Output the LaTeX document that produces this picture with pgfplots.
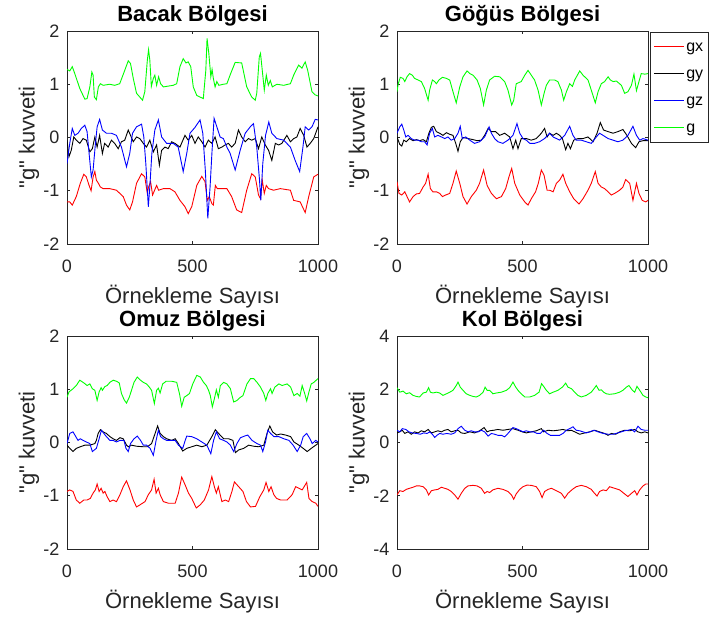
\documentclass[border=0pt]{standalone}
\usepackage{fontspec}
\setmainfont{Liberation Sans}
\usepackage{pgfplots}
\pgfplotsset{compat=1.18}
\definecolor{mgreen}{rgb}{0,1,0}
\definecolor{axgray}{rgb}{0.15,0.15,0.15}
\pgfplotsset{
  panel/.style={
    scale only axis, width=251pt, height=213pt,
    xmin=0, xmax=1000, ymin=-2, ymax=2,
    xtick={0,500,1000}, ytick={-2,-1,0,1,2},
    axis line style={axgray, line width=0.6pt},
    tick style={axgray, line width=0.6pt},
    major tick length=3pt,
    tick label style={font=\fontsize{18}{18}\selectfont, text=axgray},
    /pgf/number format/assume math mode=true,
    /pgf/number format/set thousands separator={},
    xticklabel style={yshift=-12pt},
    yticklabel style={xshift=-4pt},
    xlabel={Örnekleme Sayısı},
    ylabel={\textquotedbl g\textquotedbl{} kuvveti},
    every axis label/.append style={font=\fontsize{22}{22}\selectfont, text=axgray},
    every axis x label/.style={at={(axis description cs:0.5,0)}, anchor=center, yshift=-53pt},
    every axis y label/.style={at={(axis description cs:0,0.5)}, xshift=-38pt, anchor=center, rotate=90},
    every axis title/.style={font=\bfseries\fontsize{22}{22}\selectfont, at={(axis description cs:0.5,1)}, anchor=center, yshift=15pt},
    cycle list={{red},{black},{blue},{mgreen}},
    no markers,
    every axis plot/.append style={line width=0.9pt},
  }
}
\begin{document}
\begin{tikzpicture}
\path[use as bounding box] (0,0) rectangle (715pt,623pt);
% ---------------- Bacak
\begin{axis}[panel, at={(67pt,379pt)}, anchor=south west, title={Bacak Bölgesi}]
\addplot coordinates {(0,-1.21)(11,-1.21)(21,-1.27)(37,-1.11)(53,-0.86)(67,-0.69)(77,-0.74)(88,-0.90)(96,-1.00)(104,-0.74)(111,-0.64)(117,-0.80)(125,-0.86)(133,-0.93)(144,-0.96)(170,-0.96)(197,-0.99)(224,-1.11)(237,-1.27)(250,-1.36)(261,-1.21)(277,-0.86)(297,-0.68)(310,-0.74)(320,-1.05)(325,-0.93)(333,-0.83)(341,-1.08)(349,-0.99)(357,-0.90)(365,-0.99)(384,-0.96)(410,-0.96)(430,-1.02)(450,-1.18)(470,-1.30)(483,-1.43)(497,-1.30)(517,-0.90)(537,-0.73)(550,-0.83)(559,-1.18)(567,-1.11)(577,-1.24)(583,-1.27)(591,-0.90)(599,-0.96)(610,-0.96)(637,-0.96)(656,-1.11)(676,-1.36)(696,-1.41)(716,-0.99)(736,-0.68)(750,-0.74)(763,-1.08)(771,-1.15)(778,-0.80)(786,-1.05)(794,-0.90)(803,-0.96)(823,-0.99)(850,-0.96)(890,-0.99)(903,-1.18)(929,-1.21)(949,-1.41)(963,-1.11)(983,-0.74)(1000,-0.69)};
\addplot coordinates {(0,-0.05)(8,-0.36)(17,-0.24)(27,0.01)(37,-0.05)(51,-0.11)(64,-0.02)(77,-0.05)(91,-0.27)(101,-0.21)(111,0.01)(120,-0.18)(130,0.04)(141,-0.30)(150,-0.11)(164,-0.18)(177,-0.05)(190,-0.11)(204,-0.21)(217,-0.08)(230,-0.05)(244,0.14)(253,0.04)(264,-0.08)(277,0.01)(290,-0.02)(304,-0.11)(317,-0.18)(330,-0.05)(344,-0.27)(357,-0.14)(368,-0.52)(377,-0.24)(390,-0.18)(403,-0.21)(417,-0.08)(430,-0.11)(450,-0.18)(470,0.04)(483,-0.05)(497,0.04)(510,-0.11)(523,0.01)(537,-0.08)(550,-0.18)(563,-0.05)(577,-0.11)(590,0.01)(603,-0.21)(617,-0.18)(630,-0.14)(643,-0.11)(656,-0.18)(670,-0.11)(683,0.14)(696,0.01)(710,-0.08)(723,-0.02)(736,-0.05)(750,-0.02)(763,-0.21)(776,0.01)(790,-0.14)(803,-0.24)(816,-0.43)(830,-0.11)(843,-0.14)(856,-0.11)(876,0.04)(890,-0.08)(903,-0.02)(916,0.01)(929,0.17)(943,0.04)(956,-0.18)(969,-0.11)(983,-0.02)(1000,0.20)};
\addplot coordinates {(0,-0.49)(11,-0.11)(21,0.17)(31,0.04)(44,0.08)(57,0.17)(71,0.23)(80,0.11)(88,-0.30)(97,-0.74)(104,-0.61)(112,-0.18)(120,0.20)(130,0.34)(141,0.14)(157,0.08)(177,0.08)(197,0.04)(217,-0.18)(237,-0.55)(250,-0.30)(261,0.08)(277,0.20)(297,0.25)(306,0.01)(314,-0.49)(324,-1.30)(330,-0.93)(338,-0.30)(350,0.14)(364,0.33)(377,0.01)(397,-0.11)(423,-0.11)(443,-0.18)(463,-0.64)(477,-0.30)(490,0.08)(510,0.19)(530,0.33)(541,0.08)(551,-0.61)(561,-1.52)(570,-0.93)(578,-0.24)(586,0.36)(597,0.20)(610,0.01)(623,-0.02)(637,-0.18)(650,-0.30)(670,-0.61)(690,-0.24)(710,0.08)(730,0.20)(743,0.26)(756,-0.18)(767,-0.80)(772,-1.18)(780,-0.49)(791,0.04)(804,0.29)(816,0.08)(836,-0.02)(863,-0.05)(890,-0.18)(909,-0.43)(927,-0.64)(940,-0.18)(949,0.20)(963,0.14)(976,0.20)(989,0.34)(1000,0.33)};
\addplot coordinates {(0,1.28)(11,1.25)(21,1.33)(31,1.20)(51,0.92)(71,0.72)(80,0.73)(91,0.95)(99,1.23)(104,1.17)(109,0.76)(117,0.71)(125,0.95)(133,1.01)(144,0.98)(170,1.00)(190,0.98)(210,1.01)(230,1.26)(244,1.44)(253,1.39)(264,1.11)(277,0.83)(301,0.70)(310,0.86)(320,1.45)(325,1.65)(330,1.45)(336,0.96)(344,1.11)(350,1.17)(357,0.98)(365,1.14)(373,1.01)(384,0.95)(423,0.98)(437,1.01)(450,1.33)(463,1.48)(474,1.40)(483,1.42)(493,1.33)(503,0.95)(517,0.79)(543,0.73)(553,1.26)(558,1.86)(565,1.58)(573,1.14)(578,1.28)(583,1.11)(590,0.95)(597,1.05)(605,0.98)(623,1.00)(637,1.01)(652,1.20)(670,1.41)(696,1.40)(716,0.95)(736,0.76)(750,0.70)(756,0.83)(766,1.51)(771,1.58)(778,1.26)(786,0.89)(794,1.17)(802,0.98)(810,1.07)(818,0.95)(836,1.00)(863,0.98)(890,1.01)(903,1.17)(923,1.36)(936,1.30)(949,1.42)(959,1.26)(976,0.86)(989,0.80)(1000,0.78)};
\end{axis}
% ---------------- Gogus
\begin{axis}[panel, at={(397pt,379pt)}, anchor=south west, title={Göğüs Bölgesi},
  legend style={at={(axis description cs:1.008,0.995)}, anchor=north west, draw=axgray, line width=0.6pt,
    font=\fontsize{16}{16}\selectfont, row sep=9pt, inner xsep=3pt, inner ysep=5.5pt,
    nodes={text height=12pt, text depth=2pt, inner sep=2pt}},
  legend cell align=left,
  legend image code/.code={\draw[#1, line width=1pt] (0pt,0pt) -- (30pt,0pt);}]
\addplot coordinates {(0,-0.83)(8,-1.05)(19,-1.08)(31,-1.02)(40,-1.11)(50,-1.21)(64,-1.11)(77,-1.06)(90,-1.05)(104,-0.93)(114,-0.86)(124,-0.69)(133,-0.96)(143,-1.02)(157,-1.02)(170,-1.05)(181,-1.11)(194,-1.08)(210,-1.05)(223,-0.86)(236,-0.63)(250,-0.86)(263,-1.11)(279,-1.25)(296,-1.11)(316,-0.99)(329,-0.86)(345,-0.61)(359,-0.90)(376,-1.05)(396,-1.15)(416,-1.11)(433,-0.96)(446,-0.74)(457,-0.58)(469,-0.86)(489,-1.08)(509,-1.21)(522,-1.27)(535,-1.15)(552,-1.02)(563,-0.86)(575,-0.61)(586,-0.71)(598,-0.99)(608,-0.99)(622,-1.02)(635,-0.86)(648,-0.80)(661,-0.69)(672,-0.86)(688,-1.02)(704,-1.15)(725,-1.25)(741,-1.15)(761,-0.99)(774,-0.86)(790,-0.64)(801,-0.86)(814,-0.93)(827,-0.96)(841,-1.02)(854,-1.08)(867,-1.05)(887,-0.99)(900,-0.93)(911,-0.79)(927,-0.86)(940,-1.18)(954,-0.86)(964,-1.05)(977,-1.18)(991,-1.21)(1000,-1.18)};
\addplot coordinates {(0,0.01)(11,-0.13)(19,-0.16)(27,-0.05)(37,-0.08)(50,-0.02)(64,-0.06)(77,-0.04)(90,-0.06)(104,-0.04)(117,-0.08)(127,0.08)(137,0.19)(146,0.21)(157,0.11)(170,0.08)(183,0.04)(197,0.09)(210,0.06)(223,0.04)(234,-0.11)(243,-0.26)(252,-0.08)(263,0.00)(283,-0.02)(303,-0.04)(319,-0.06)(336,-0.05)(349,0.04)(363,0.17)(376,0.11)(393,0.11)(409,0.04)(429,0.08)(449,0.01)(462,-0.21)(473,-0.05)(482,-0.21)(495,-0.02)(515,-0.02)(535,-0.05)(555,-0.02)(575,0.08)(588,0.17)(598,0.01)(608,0.08)(622,0.04)(635,0.08)(648,0.04)(659,-0.02)(672,-0.23)(681,-0.11)(691,-0.21)(704,-0.05)(721,-0.02)(741,-0.02)(761,0.01)(781,-0.08)(797,0.08)(810,0.28)(823,0.14)(841,0.11)(861,0.08)(880,0.11)(900,0.15)(916,0.04)(934,-0.11)(951,-0.19)(964,-0.08)(980,-0.06)(1000,-0.06)};
\addplot coordinates {(0,0.08)(11,0.20)(19,0.25)(27,0.14)(35,0.01)(44,0.04)(57,-0.02)(70,-0.05)(84,-0.05)(97,-0.08)(110,-0.08)(120,-0.14)(130,0.08)(141,0.17)(150,0.01)(163,0.04)(177,0.01)(190,-0.02)(203,0.01)(216,-0.05)(230,-0.02)(243,0.08)(252,0.21)(260,-0.02)(274,0.01)(290,-0.05)(309,-0.11)(329,-0.08)(349,0.01)(367,0.20)(376,0.08)(389,-0.02)(402,-0.08)(422,-0.11)(442,-0.05)(462,0.04)(478,0.26)(489,0.08)(502,-0.02)(515,-0.05)(529,-0.11)(548,-0.11)(568,-0.08)(588,-0.02)(608,0.08)(622,0.01)(635,-0.02)(648,-0.05)(668,0.04)(688,0.21)(701,0.04)(714,-0.05)(734,-0.05)(754,-0.08)(774,-0.11)(794,0.01)(807,0.08)(821,0.04)(841,-0.02)(861,-0.05)(880,-0.08)(900,-0.05)(920,0.04)(940,0.21)(954,0.04)(967,-0.05)(980,-0.02)(1000,-0.05)};
\addplot coordinates {(0,0.86)(5,1.01)(13,1.13)(24,1.11)(31,1.05)(40,1.14)(50,1.20)(61,1.17)(70,1.11)(84,1.08)(97,1.05)(110,0.92)(124,0.70)(130,0.89)(141,1.08)(150,1.05)(157,1.01)(167,1.08)(181,1.13)(197,1.11)(210,1.08)(223,0.86)(236,0.65)(250,0.95)(263,1.14)(279,1.25)(290,1.20)(303,1.17)(319,1.08)(332,0.92)(345,0.61)(356,0.89)(369,1.08)(389,1.15)(409,1.14)(429,1.05)(442,0.89)(457,0.61)(465,0.70)(475,1.01)(495,1.05)(509,1.17)(522,1.26)(535,1.17)(548,1.08)(562,0.89)(575,0.61)(586,0.83)(595,0.98)(608,1.08)(628,1.08)(641,1.05)(655,0.89)(664,0.70)(675,0.86)(688,1.01)(699,0.96)(708,1.08)(728,1.25)(741,1.17)(761,1.08)(774,0.89)(790,0.65)(801,0.86)(814,1.01)(827,1.05)(841,1.14)(850,1.08)(861,1.05)(874,1.06)(894,0.98)(907,0.83)(920,0.86)(934,0.98)(944,1.19)(954,0.88)(964,1.05)(973,1.20)(987,1.19)(1000,1.20)};
\legend{gx,gy,gz,g}
\end{axis}
% ---------------- Omuz
\begin{axis}[panel, at={(67pt,74pt)}, anchor=south west, title={Omuz Bölgesi}]
\addplot coordinates {(0,-0.92)(11,-0.89)(24,-0.92)(37,-1.08)(51,-1.14)(67,-1.08)(80,-1.08)(93,-1.05)(104,-0.95)(113,-0.89)(120,-0.78)(128,-0.92)(136,-0.86)(144,-0.95)(151,-0.92)(160,-1.02)(171,-1.11)(184,-1.08)(197,-1.11)(211,-0.98)(224,-0.83)(237,-0.72)(251,-0.89)(264,-1.08)(277,-1.21)(291,-1.17)(311,-1.11)(324,-0.98)(337,-0.89)(347,-0.69)(355,-0.95)(364,-0.86)(371,-0.98)(384,-1.11)(404,-1.14)(431,-1.14)(444,-0.95)(457,-0.65)(471,-0.80)(484,-0.95)(497,-1.05)(515,-1.23)(531,-1.17)(547,-1.08)(564,-0.89)(577,-0.64)(587,-0.83)(595,-0.95)(603,-0.83)(617,-1.11)(631,-1.08)(644,-1.11)(657,-0.92)(667,-0.74)(684,-0.83)(701,-0.92)(715,-1.11)(731,-1.21)(751,-1.20)(768,-1.02)(784,-0.89)(793,-0.75)(804,-0.92)(813,-0.83)(824,-0.98)(835,-1.05)(851,-1.08)(877,-1.08)(897,-0.98)(911,-0.83)(924,-0.86)(937,-0.89)(955,-0.75)(964,-1.05)(977,-1.11)(991,-1.14)(1000,-1.20)};
\addplot coordinates {(0,-0.05)(11,-0.11)(24,-0.17)(37,-0.11)(53,-0.08)(71,-0.05)(91,-0.05)(111,-0.02)(117,0.04)(124,0.17)(133,0.24)(144,0.20)(157,0.17)(171,0.11)(184,0.07)(197,0.04)(211,0.09)(224,0.07)(237,-0.05)(244,-0.08)(257,-0.05)(277,-0.07)(304,-0.08)(320,-0.08)(337,-0.02)(351,0.17)(361,0.31)(371,0.17)(384,0.11)(397,0.07)(417,0.04)(431,0.07)(444,-0.02)(461,-0.16)(477,-0.11)(497,-0.08)(517,-0.05)(537,-0.08)(557,-0.05)(577,0.11)(591,0.24)(604,0.17)(624,0.07)(644,0.07)(661,0.04)(671,-0.19)(684,-0.14)(704,-0.11)(724,-0.05)(744,-0.07)(764,-0.08)(784,-0.05)(797,0.17)(808,0.31)(819,0.20)(835,0.14)(851,0.16)(871,0.14)(891,0.11)(904,0.01)(924,-0.05)(941,-0.11)(957,-0.17)(973,-0.11)(991,-0.05)(1000,-0.02)};
\addplot coordinates {(0,-0.02)(11,0.17)(24,0.20)(35,0.11)(44,0.04)(53,0.07)(64,0.04)(77,0.01)(91,-0.02)(101,-0.17)(109,-0.14)(117,-0.11)(128,0.07)(137,0.23)(147,0.17)(157,0.11)(171,0.04)(184,0.04)(197,0.01)(211,0.04)(227,0.04)(235,-0.11)(244,-0.17)(253,-0.02)(267,0.07)(280,0.12)(293,0.04)(304,-0.05)(317,-0.05)(331,-0.11)(344,-0.24)(355,0.04)(364,0.23)(373,0.11)(384,0.07)(397,0.04)(411,0.04)(431,0.04)(444,-0.05)(461,-0.11)(471,0.04)(477,0.12)(497,0.11)(517,0.07)(537,0.01)(557,-0.05)(573,-0.21)(584,0.04)(595,0.20)(608,0.07)(624,0.04)(637,0.01)(651,-0.05)(664,-0.17)(677,-0.02)(691,0.09)(707,0.12)(720,0.14)(737,0.04)(757,-0.02)(771,-0.05)(780,-0.17)(791,0.01)(800,0.23)(811,0.17)(824,0.11)(844,0.11)(864,0.07)(884,0.04)(901,-0.05)(917,-0.17)(931,-0.05)(941,0.11)(955,0.17)(968,0.07)(977,-0.02)(991,0.04)(1000,0.01)};
\addplot coordinates {(0,0.85)(8,0.95)(24,1.01)(37,1.07)(51,1.17)(67,1.12)(80,1.07)(91,1.10)(101,1.01)(111,0.98)(120,0.79)(128,0.95)(136,1.03)(141,0.98)(151,1.05)(160,1.07)(171,1.13)(184,1.17)(197,1.15)(208,1.12)(217,0.92)(228,0.80)(237,0.74)(248,0.85)(257,0.98)(267,1.13)(280,1.23)(293,1.17)(304,1.13)(317,1.10)(328,1.04)(337,0.98)(348,0.73)(357,0.98)(364,1.02)(371,0.93)(381,1.10)(395,1.15)(417,1.15)(437,1.13)(448,0.92)(457,0.68)(467,0.85)(477,0.88)(488,0.92)(501,1.10)(517,1.26)(531,1.23)(544,1.13)(555,1.07)(564,0.98)(571,0.88)(579,0.67)(587,0.82)(595,0.99)(603,0.85)(611,1.07)(624,1.13)(637,1.10)(651,1.01)(664,0.76)(677,0.79)(691,0.85)(701,0.88)(717,1.10)(731,1.20)(744,1.20)(757,1.13)(771,1.04)(784,0.92)(792,0.79)(800,0.92)(811,1.01)(817,0.92)(828,1.04)(844,1.10)(857,1.07)(877,1.10)(891,1.04)(904,0.88)(917,0.92)(928,0.87)(937,1.07)(947,0.92)(955,0.78)(964,0.95)(973,1.10)(984,1.13)(995,1.18)(1000,1.20)};
\end{axis}
% ---------------- Kol
\begin{axis}[panel, at={(397pt,74pt)}, anchor=south west, title={Kol Bölgesi}, ymin=-4, ymax=4, ytick={-4,-2,0,2,4}]
\addplot coordinates {(0,-1.97)(11,-1.81)(24,-1.84)(37,-1.76)(50,-1.72)(64,-1.68)(77,-1.63)(90,-1.63)(104,-1.66)(117,-1.78)(126,-1.97)(137,-1.81)(150,-1.78)(163,-1.76)(177,-1.68)(190,-1.72)(203,-1.76)(216,-1.84)(230,-1.97)(243,-2.13)(256,-1.91)(270,-1.72)(283,-1.63)(303,-1.61)(319,-1.63)(336,-1.72)(349,-1.91)(359,-1.84)(369,-1.88)(382,-1.78)(402,-1.72)(422,-1.76)(442,-1.84)(456,-1.97)(465,-2.13)(475,-1.93)(489,-1.76)(502,-1.66)(518,-1.60)(535,-1.61)(555,-1.66)(568,-1.84)(578,-2.07)(588,-1.84)(602,-1.76)(615,-1.72)(628,-1.78)(641,-1.84)(655,-1.91)(668,-2.09)(681,-1.91)(699,-1.76)(714,-1.66)(734,-1.61)(754,-1.66)(774,-1.76)(787,-1.91)(797,-2.01)(807,-1.84)(821,-1.78)(834,-1.81)(847,-1.66)(867,-1.72)(887,-1.78)(900,-1.88)(920,-2.03)(934,-1.91)(947,-1.81)(956,-1.97)(967,-1.78)(980,-1.63)(991,-1.56)(1000,-1.56)};
\addplot coordinates {(0,0.36)(11,0.40)(21,0.46)(31,0.34)(44,0.40)(57,0.31)(70,0.40)(84,0.36)(97,0.44)(110,0.40)(124,0.49)(137,0.36)(150,0.40)(163,0.44)(177,0.40)(190,0.46)(203,0.49)(216,0.40)(230,0.44)(243,0.46)(256,0.36)(270,0.34)(290,0.40)(309,0.36)(329,0.44)(347,0.56)(359,0.40)(369,0.44)(385,0.46)(402,0.49)(422,0.46)(442,0.49)(462,0.52)(482,0.46)(499,0.40)(515,0.36)(535,0.40)(555,0.44)(575,0.52)(584,0.40)(602,0.46)(622,0.44)(641,0.46)(661,0.49)(681,0.44)(695,0.46)(708,0.40)(728,0.31)(748,0.36)(768,0.40)(788,0.46)(807,0.40)(827,0.34)(841,0.27)(854,0.34)(871,0.31)(887,0.40)(907,0.46)(927,0.44)(947,0.49)(960,0.40)(973,0.36)(987,0.40)(1000,0.36)};
\addplot coordinates {(0,0.46)(11,0.40)(21,0.52)(35,0.49)(48,0.40)(61,0.36)(77,0.34)(93,0.31)(106,0.36)(120,0.34)(130,0.40)(141,0.31)(150,0.19)(159,0.27)(170,0.34)(183,0.31)(199,0.34)(216,0.31)(230,0.36)(243,0.52)(256,0.61)(270,0.46)(283,0.40)(296,0.44)(309,0.40)(323,0.40)(336,0.46)(349,0.40)(363,0.24)(376,0.34)(389,0.31)(402,0.27)(416,0.27)(429,0.21)(442,0.34)(462,0.56)(475,0.52)(489,0.46)(502,0.40)(515,0.44)(529,0.40)(544,0.40)(558,0.34)(571,0.34)(584,0.46)(598,0.34)(611,0.27)(628,0.27)(648,0.27)(661,0.34)(675,0.46)(688,0.52)(701,0.59)(714,0.46)(728,0.44)(741,0.40)(754,0.36)(768,0.40)(784,0.46)(801,0.40)(821,0.34)(841,0.31)(861,0.31)(880,0.36)(894,0.40)(907,0.44)(920,0.46)(934,0.49)(947,0.40)(960,0.61)(973,0.49)(987,0.46)(1000,0.46)};
\addplot coordinates {(0,2.06)(11,1.89)(24,1.93)(37,1.83)(50,1.87)(64,1.77)(77,1.73)(90,1.71)(104,1.86)(117,1.89)(126,2.06)(133,1.89)(143,1.86)(157,1.89)(170,1.86)(183,1.77)(197,1.83)(210,1.89)(223,1.96)(236,2.14)(243,2.27)(252,2.08)(263,1.96)(276,1.83)(290,1.77)(303,1.73)(316,1.71)(329,1.77)(343,1.89)(351,2.08)(359,1.96)(369,1.96)(382,1.83)(396,1.86)(416,1.89)(436,1.96)(449,2.06)(462,2.27)(473,2.08)(482,1.96)(495,1.83)(509,1.71)(529,1.71)(548,1.77)(566,1.89)(576,2.21)(584,2.11)(595,1.96)(608,1.83)(622,1.89)(641,1.96)(659,2.08)(672,2.23)(681,2.08)(695,2.02)(708,1.89)(721,1.77)(734,1.71)(754,1.77)(774,1.89)(785,2.02)(794,2.14)(805,1.96)(814,1.98)(823,1.89)(834,1.83)(847,1.81)(867,1.83)(887,1.89)(900,1.96)(914,2.08)(924,2.14)(938,1.96)(947,1.89)(956,2.11)(967,1.96)(980,1.77)(991,1.71)(1000,1.68)};
\end{axis}
\end{tikzpicture}
\end{document}
